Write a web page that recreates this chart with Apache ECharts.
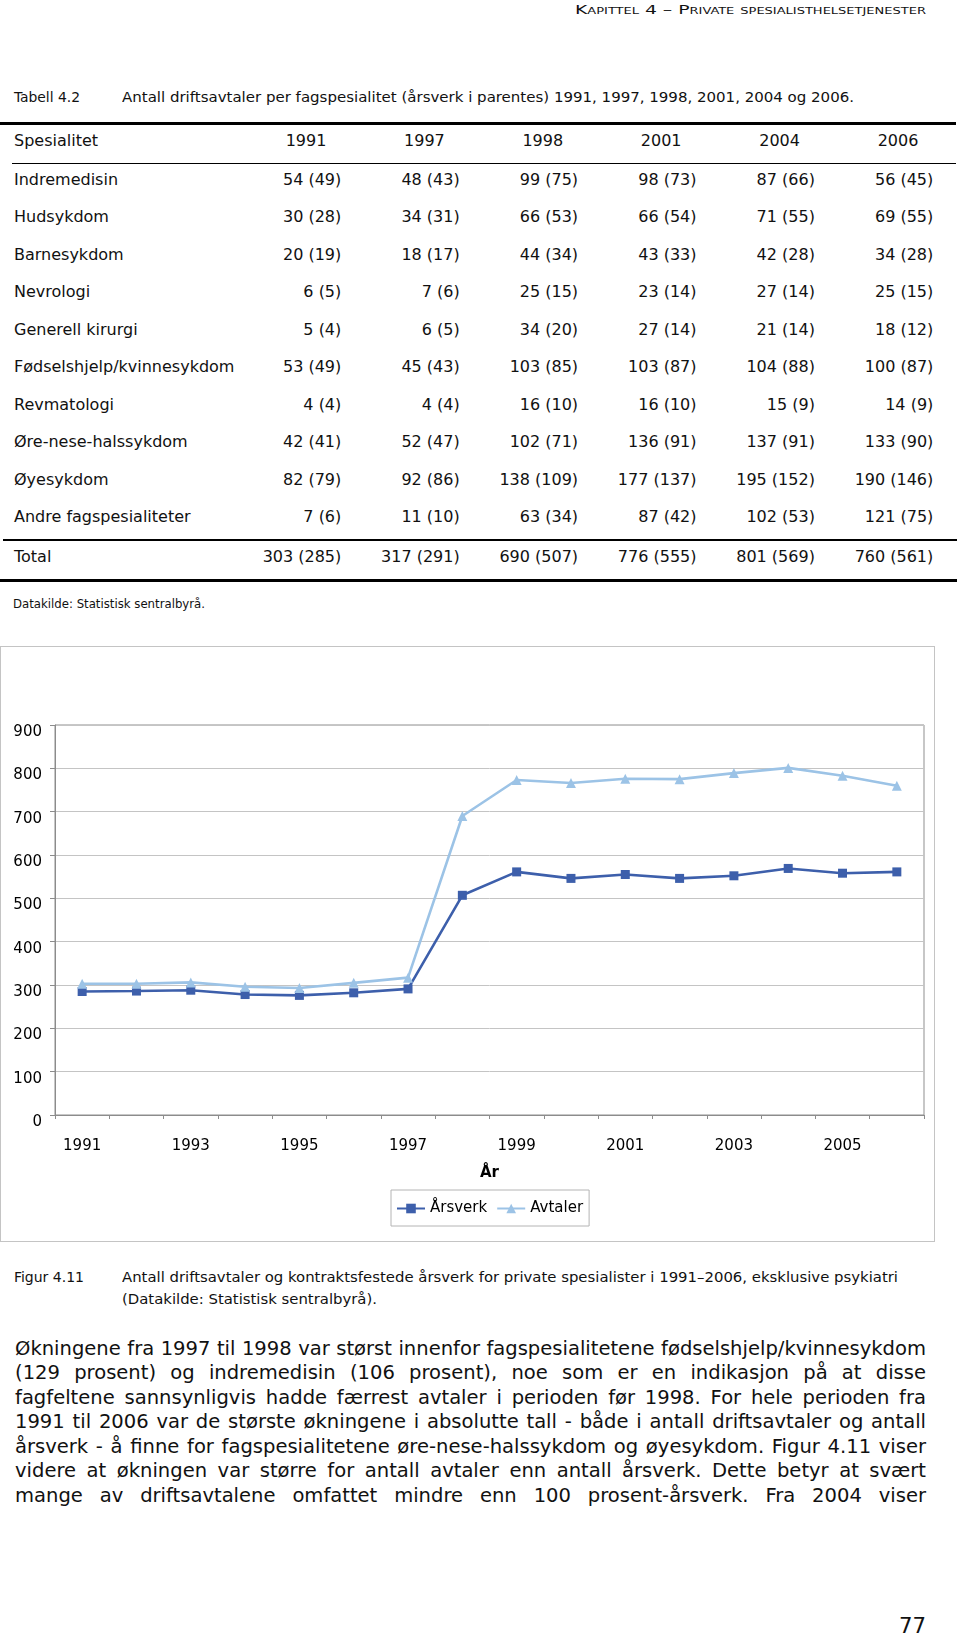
<!DOCTYPE html>
<html>
<head>
<meta charset="utf-8">
<script src="https://cdn.jsdelivr.net/npm/echarts@6/dist/echarts.min.js"></script>
<style>
  html, body { margin: 0; padding: 0; background: #fff; }
  body { width: 960px; height: 1636px; position: relative; overflow: hidden; color: #111; font-family: "DejaVu Sans", Verdana, sans-serif; }
  .abs { position: absolute; white-space: nowrap; }
  .fit { display: inline-block; transform-origin: left center; }
  .cond { font-family: "DejaVu Sans Condensed", "DejaVu Sans", sans-serif; }
  .rule { position: absolute; background: #000; }
  .cell { position: absolute; font-size: 16px; line-height: 20px; height: 20px; white-space: nowrap; }
  #frame { position: absolute; left: 0px; top: 646px; width: 935px; height: 596px; box-sizing: border-box; border: 1.5px solid #c4c4c4; }
  #chart { position: absolute; left: 0; top: 640px; width: 960px; height: 610px; }
  .pline { position: absolute; left: 15px; font-size: 17.5px; line-height: 24px; height: 24px; white-space: nowrap; }
</style>
</head>
<body>
<div id="header" class="abs cond" style="left:575px; top:2px; font-size:13px; line-height:16px;"><span class="fit" data-w="351" style="font-variant: small-caps;">Kapittel 4 – Private spesialisthelsetjenester</span></div>

<div class="abs cond" style="left:14px; top:88px; font-size:14px; line-height:18px;"><span class="fit" data-w="66">Tabell 4.2</span></div>
<div class="abs cond" style="left:122px; top:88px; font-size:14px; line-height:18px;"><span class="fit" data-w="732">Antall driftsavtaler per fagspesialitet (årsverk i parentes) 1991, 1997, 1998, 2001, 2004 og 2006.</span></div>

<div id="table"></div>

<div class="abs cond" style="left:13px; top:596px; font-size:12px; line-height:16px;"><span class="fit" data-w="192">Datakilde: Statistisk sentralbyrå.</span></div>

<div id="frame"></div>
<div id="chart"></div>

<div class="abs cond" style="left:14px; top:1268px; font-size:14px; line-height:18px;"><span class="fit" data-w="70">Figur 4.11</span></div>
<div class="abs cond" style="left:122px; top:1268px; font-size:14px; line-height:18px;"><span class="fit" data-w="776">Antall driftsavtaler og kontraktsfestede årsverk for private spesialister i 1991–2006, eksklusive psykiatri</span></div>
<div class="abs cond" style="left:122px; top:1290px; font-size:14px; line-height:18px;"><span class="fit" data-w="255">(Datakilde: Statistisk sentralbyrå).</span></div>

<div id="para"></div>

<div class="abs cond" style="left:899px; top:1613px; font-size:21px; line-height:26px;"><span class="fit" data-w="27">77</span></div>

<script>
// ---------- Chart data ----------
const chartYears = ['1991','1992','1993','1994','1995','1996','1997','1998','1999','2000','2001','2002','2003','2004','2005','2006'];
const arsverk = [285, 286, 288, 278, 276, 282, 291, 507, 561, 546, 555, 546, 552, 569, 558, 561];
const avtaler = [303, 303, 306, 296, 293, 305, 317, 690, 773, 766, 776, 775, 789, 801, 783, 760];
const yMin = 0, yMax = 900, yInterval = 100;

// ---------- Table data ----------
const tableYears = ['1991', '1997', '1998', '2001', '2004', '2006'];
const specialties = ['Indremedisin', 'Hudsykdom', 'Barnesykdom', 'Nevrologi', 'Generell kirurgi',
  'Fødselshjelp/kvinnesykdom', 'Revmatologi', 'Øre-nese-halssykdom', 'Øyesykdom', 'Andre fagspesialiteter'];
const tableAvtaler = [
  [54, 48, 99, 98, 87, 56],
  [30, 34, 66, 66, 71, 69],
  [20, 18, 44, 43, 42, 34],
  [6, 7, 25, 23, 27, 25],
  [5, 6, 34, 27, 21, 18],
  [53, 45, 103, 103, 104, 100],
  [4, 4, 16, 16, 15, 14],
  [42, 52, 102, 136, 137, 133],
  [82, 92, 138, 177, 195, 190],
  [7, 11, 63, 87, 102, 121]
];
const tableArsverk = [
  [49, 43, 75, 73, 66, 45],
  [28, 31, 53, 54, 55, 55],
  [19, 17, 34, 33, 28, 28],
  [5, 6, 15, 14, 14, 15],
  [4, 5, 20, 14, 14, 12],
  [49, 43, 85, 87, 88, 87],
  [4, 4, 10, 10, 9, 9],
  [41, 47, 71, 91, 91, 90],
  [79, 86, 109, 137, 152, 146],
  [6, 10, 34, 42, 53, 75]
];
const totalLabel = 'Total';
const totalAvtaler = [303, 317, 690, 776, 801, 760];
const totalArsverk = [285, 291, 507, 555, 569, 561];

const paragraphLines = [
  'Økningene fra 1997 til 1998 var størst innenfor fagspesialitetene fødselshjelp/kvinnesykdom',
  '(129 prosent) og indremedisin (106 prosent), noe som er en indikasjon på at disse',
  'fagfeltene sannsynligvis hadde færrest avtaler i perioden før 1998. For hele perioden fra',
  '1991 til 2006 var de største økningene i absolutte tall - både i antall driftsavtaler og antall',
  'årsverk - å finne for fagspesialitetene øre-nese-halssykdom og øyesykdom. Figur 4.11 viser',
  'videre at økningen var større for antall avtaler enn antall årsverk. Dette betyr at svært',
  'mange av driftsavtalene omfattet mindre enn 100 prosent-årsverk. Fra 2004 viser'
];

// ---------- Build table ----------
(function () {
  const t = document.getElementById('table');
  const colCenter = i => 306 + i * 118.4;
  const colRight = i => colCenter(i) + 35.3;
  function addCell(text, cy, opts) {
    const d = document.createElement('div');
    d.className = 'cell';
    d.textContent = text;
    d.style.top = (cy - 10) + 'px';
    if (opts.left !== undefined) { d.style.left = opts.left + 'px'; }
    if (opts.right !== undefined) { d.style.left = (opts.right - 200) + 'px'; d.style.width = '200px'; d.style.textAlign = 'right'; }
    if (opts.center !== undefined) { d.style.left = (opts.center - 100) + 'px'; d.style.width = '200px'; d.style.textAlign = 'center'; }
    t.appendChild(d);
  }
  function addRule(x1, x2, y, h) {
    const r = document.createElement('div');
    r.className = 'rule';
    r.style.left = x1 + 'px'; r.style.width = (x2 - x1) + 'px';
    r.style.top = y + 'px'; r.style.height = h + 'px';
    t.appendChild(r);
  }
  addRule(0, 956, 121.5, 3);
  addCell('Spesialitet', 141, { left: 14 });
  tableYears.forEach((y, i) => addCell(y, 141, { center: colCenter(i) }));
  addRule(12, 956, 162.5, 1.5);
  specialties.forEach((s, r) => {
    const cy = 180 + r * 37.48;
    addCell(s, cy, { left: 14 });
    tableYears.forEach((y, i) => addCell(tableAvtaler[r][i] + ' (' + tableArsverk[r][i] + ')', cy, { right: colRight(i) }));
  });
  addRule(3, 957, 538.8, 2);
  addCell(totalLabel, 557.3, { left: 14 });
  tableYears.forEach((y, i) => addCell(totalAvtaler[i] + ' (' + totalArsverk[i] + ')', 557.3, { right: colRight(i) }));
  addRule(0, 957, 578.5, 3.5);
})();

// ---------- Paragraph ----------
(function () {
  const p = document.getElementById('para');
  const tops = [1349.2, 1373.4, 1397.8, 1422.2, 1446.8, 1471.2, 1495.8];
  paragraphLines.forEach((line, i) => {
    const d = document.createElement('div');
    d.className = 'pline';
    d.style.top = (tops[i] - 12) + 'px';
    const s = document.createElement('span');
    s.className = 'fit';
    s.dataset.just = '911';
    s.textContent = line;
    d.appendChild(s);
    p.appendChild(d);
  });
  // size the font so the first (unstretched) line fills the column naturally
  const first = p.querySelector('span');
  const w1 = first.getBoundingClientRect().width;
  const fs = 17.5 * 909 / w1;
  p.querySelectorAll('.pline').forEach(d => { d.style.fontSize = fs + 'px'; });
})();

// ---------- Fit texts ----------
document.querySelectorAll('[data-w]').forEach(el => {
  const w = el.getBoundingClientRect().width;
  const target = parseFloat(el.dataset.w);
  if (w > 0) el.style.transform = 'scaleX(' + (target / w) + ')';
});
document.querySelectorAll('[data-just]').forEach(el => {
  const w = el.getBoundingClientRect().width;
  const target = parseFloat(el.dataset.just);
  const n = (el.textContent.match(/ /g) || []).length;
  if (w > target) {
    el.style.transform = 'scaleX(' + (target / w) + ')';
  } else if (n > 0) {
    el.style.wordSpacing = ((target - w) / n) + 'px';
  }
});

// ---------- Chart ----------
const chart = echarts.init(document.getElementById('chart'), null, { renderer: 'canvas' });
const FONT = 'DejaVu Sans';
chart.setOption({
  animation: false,
  backgroundColor: 'transparent',
  grid: {
    left: 55, top: 85, width: 869, height: 390,
    containLabel: false, outerBoundsMode: 'none',
    show: true, borderColor: '#8f8f8f', borderWidth: 1, backgroundColor: 'transparent'
  },
  legend: {
    show: true,
    left: 391, top: 550,
    orient: 'horizontal',
    padding: [11, 6, 10, 5],
    itemGap: 9,
    itemWidth: 28,
    itemHeight: 12,
    borderColor: '#b4b4b4',
    borderWidth: 1,
    backgroundColor: '#fff',
    textStyle: { fontFamily: FONT, fontSize: 15, color: '#000', padding: [2, 0, 0, 0] },
    data: ['Årsverk', 'Avtaler']
  },
  xAxis: {
    type: 'category',
    data: chartYears,
    boundaryGap: true,
    name: 'År',
    nameLocation: 'middle',
    nameGap: 51,
    nameTextStyle: { fontFamily: FONT, fontSize: 15, fontWeight: 'bold', color: '#000' },
    axisLine: { show: true, lineStyle: { color: '#8c8c8c', width: 1 } },
    axisTick: { show: true, length: 4, interval: 0, alignWithLabel: false, lineStyle: { color: '#8c8c8c' } },
    axisLabel: { interval: 1, margin: 24, fontFamily: FONT, fontSize: 15, color: '#000' },
    splitLine: { show: false }
  },
  yAxis: {
    type: 'value',
    min: yMin, max: yMax, interval: yInterval,
    axisLine: { show: true, lineStyle: { color: '#8c8c8c', width: 1 } },
    axisTick: { show: true, length: 5, lineStyle: { color: '#8c8c8c' } },
    axisLabel: { margin: 13, fontFamily: FONT, fontSize: 15, color: '#000', verticalAlign: 'top', lineHeight: 14 },
    splitLine: { show: true, lineStyle: { color: '#c4c4c4', width: 1 } }
  },
  series: [
    {
      name: 'Årsverk',
      type: 'line',
      data: arsverk,
      symbol: 'rect',
      symbolSize: 9,
      showAllSymbol: true,
      lineStyle: { color: '#3d5fab', width: 2.6 },
      itemStyle: { color: '#3d5fab', borderWidth: 0 },
      emphasis: { disabled: true }
    },
    {
      name: 'Avtaler',
      type: 'line',
      data: avtaler,
      symbol: 'triangle',
      symbolSize: 10,
      showAllSymbol: true,
      lineStyle: { color: '#9cc3e6', width: 2.6 },
      itemStyle: { color: '#9cc3e6', borderWidth: 0 },
      emphasis: { disabled: true }
    }
  ]
});
</script>
</body>
</html>
